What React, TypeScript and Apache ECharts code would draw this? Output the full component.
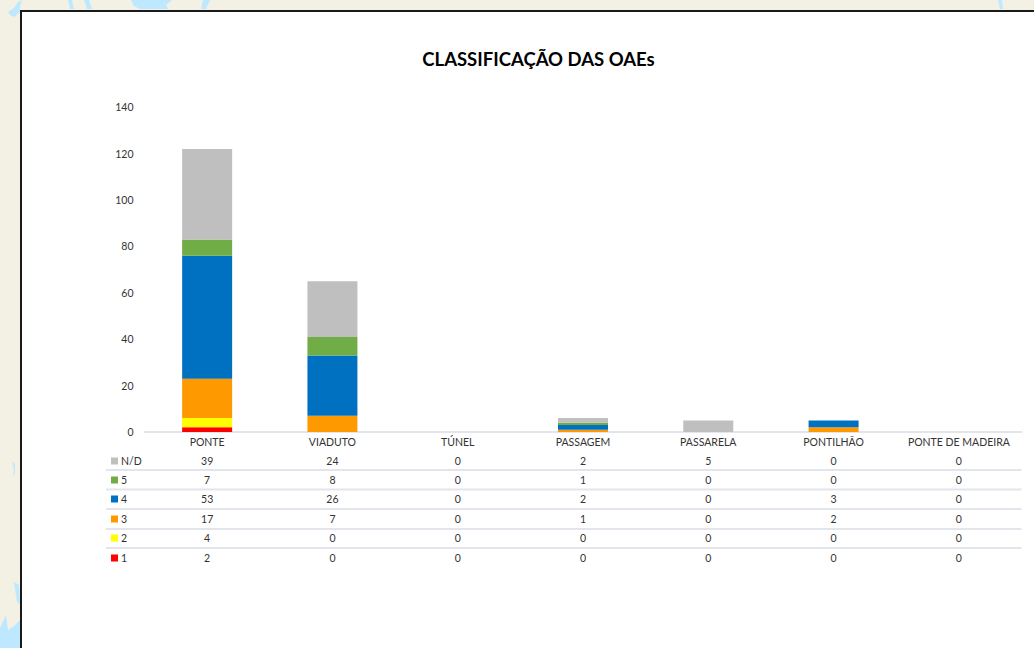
import React, { useEffect, useRef } from "react";
import * as echarts from "echarts";

const title = "CLASSIFICAÇÃO DAS OAEs";
const categories = ["PONTE", "VIADUTO", "TÚNEL", "PASSAGEM", "PASSARELA", "PONTILHÃO", "PONTE DE MADEIRA"];
const levelNd = [39, 24, 0, 2, 5, 0, 0];
const level5 = [7, 8, 0, 1, 0, 0, 0];
const level4 = [53, 26, 0, 2, 0, 3, 0];
const level3 = [17, 7, 0, 1, 0, 2, 0];
const level2 = [4, 0, 0, 0, 0, 0, 0];
const level1 = [2, 0, 0, 0, 0, 0, 0];

const rows = [
  { name: "N/D", values: levelNd, color: "#BFBFBF" },
  { name: "5", values: level5, color: "#70AD47" },
  { name: "4", values: level4, color: "#0070C0" },
  { name: "3", values: level3, color: "#FF9900" },
  { name: "2", values: level2, color: "#FFFF00" },
  { name: "1", values: level1, color: "#FF0000" },
];

const FONT = "Lato, 'Open Sans', sans-serif";
const TEXT = "#333333";
const LINE = "#E2E6EC";
const LEFT = 144.5;
const RIGHT = 1021.5;
const rowText = [461, 480, 499, 519, 538, 558];
const rowLines = [470, 489.5, 509, 529, 548];

const water = "#BEE8FF";
const waterShapes: number[][][] = [
  [[8, 12], [14, 8], [18, 2], [22, 0], [20, 7], [20, 12], [14, 17], [10, 15]],
  [[68, 0], [72, 0], [74, 9], [70, 9]],
  [[84, 0], [89, 0], [92, 9], [87, 9]],
  [[131, 0], [172, 0], [166, 5], [168, 9], [140, 9], [134, 6]],
  [[203, 0], [210, 0], [206, 9], [201, 9]],
  [[998, 0], [1002, 0], [1003, 9], [1000, 9]],
  [[12, 461], [15, 464], [15, 473], [13, 477], [14, 470]],
  [[14, 582], [19, 585], [20, 604], [17, 602]],
  [[0, 628], [6, 615], [8, 630], [14, 626], [20, 620], [20, 648], [0, 648]],
];

export default function App() {
  const ref = useRef<HTMLDivElement>(null);
  useEffect(() => {
    const chart = echarts.init(ref.current!, null, { renderer: "svg" });
    const step = (RIGHT - LEFT) / categories.length;
    const graphic: any[] = [];
    waterShapes.forEach((points) =>
      graphic.push({ type: "polygon", z: -10, silent: true, shape: { points }, style: { fill: water } })
    );
    graphic.push({
      type: "rect", z: -5, silent: true,
      shape: { x: 21, y: 11, width: 1100, height: 800 },
      style: { fill: "#ffffff", stroke: "#1a1a1a", lineWidth: 2 },
    });
    rowLines.forEach((y) =>
      graphic.push({
        type: "line", silent: true,
        shape: { x1: 106, y1: y, x2: RIGHT, y2: y },
        style: { stroke: LINE, lineWidth: 2 },
      })
    );
    rows.forEach((row, r) => {
      const y = rowText[r];
      graphic.push({
        type: "rect", silent: true,
        shape: { x: 111, y: y - 3.5, width: 7, height: 7 },
        style: { fill: row.color },
      });
      graphic.push({
        type: "text", silent: true, x: 121, y,
        style: { text: row.name, fill: TEXT, font: `10.5px ${FONT}`, textAlign: "left", textVerticalAlign: "middle" },
      });
      row.values.forEach((v, c) =>
        graphic.push({
          type: "text", silent: true, x: LEFT + step * (c + 0.5), y,
          style: { text: String(v), fill: TEXT, font: `10.5px ${FONT}`, textAlign: "center", textVerticalAlign: "middle" },
        })
      );
    });

    chart.setOption({
      animation: false,
      backgroundColor: "#F3F0E4",
      title: {
        text: title, left: 533.5, top: 44, textAlign: "center",
        textStyle: { fontFamily: FONT, fontSize: 18.5, fontWeight: "bold", color: "#000000" },
      },
      grid: { left: LEFT, right: 1034 - RIGHT, top: 107.2, bottom: 216, containLabel: false },
      xAxis: {
        type: "category", data: categories,
        axisLine: { lineStyle: { color: LINE, width: 2 } },
        axisTick: { show: false },
        axisLabel: { color: TEXT, fontFamily: FONT, fontSize: 10.5, margin: 4, interval: 0 },
      },
      yAxis: {
        type: "value", min: 0, max: 140, interval: 20,
        splitLine: { show: false }, axisLine: { show: false }, axisTick: { show: false },
        axisLabel: { color: TEXT, fontFamily: FONT, fontSize: 10.5, margin: 11 },
      },
      series: [...rows].reverse().map((row) => ({
        name: row.name, type: "bar", stack: "total", barWidth: 50,
        data: row.values, itemStyle: { color: row.color },
      })),
      graphic,
    });
    return () => chart.dispose();
  }, []);
  return <div ref={ref} style={{ position: "fixed", left: 0, top: 0, width: 1034, height: 648 }} />;
}
